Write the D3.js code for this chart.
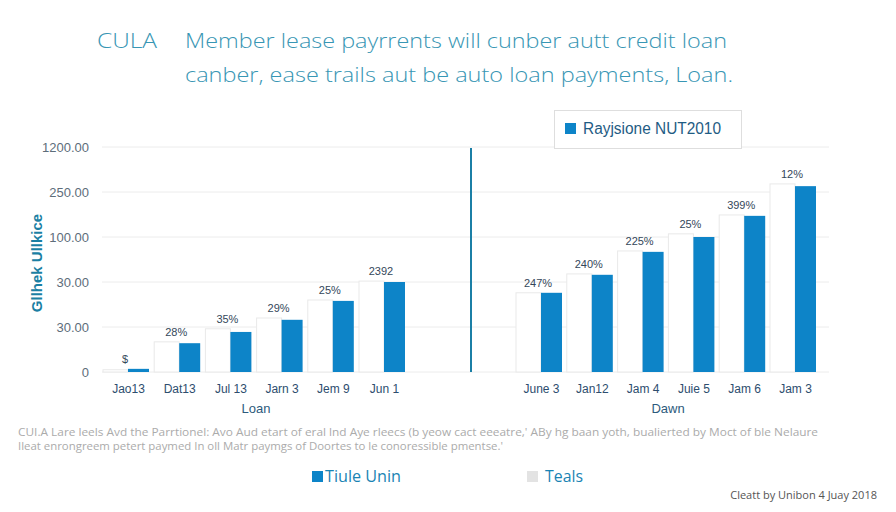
<!DOCTYPE html>
<html>
<head>
<meta charset="utf-8">
<script src="https://cdn.jsdelivr.net/npm/d3@7"></script>
<style>
  html, body { margin: 0; padding: 0; background: #fff; }
  svg { display: block; font-family: "Open Sans", "Noto Sans", sans-serif; }
</style>
</head>
<body>
<svg id="chart" width="896" height="512"></svg>
<script>
// ---- data ----
const titleLead = "CULA";
const titleLines = [
  "Member lease payrrents will cunber autt credit loan",
  "canber, ease trails aut be auto loan payments, Loan."
];
const yTickLabels = ["0", "30.00", "30.00", "100.00", "250.00", "1200.00"];
const yAxisTitle = "Gllhek Ullkice";

const leftCategories = ["Jao13", "Dat13", "Jul 13", "Jarn 3", "Jem 9", "Jun 1"];
const leftValues     = [0.07, 0.64, 0.89, 1.16, 1.58, 2.00];
const leftGhost      = [0.05, 0.67, 0.96, 1.20, 1.60, 2.02];
const leftLabels     = ["$", "28%", "35%", "29%", "25%", "2392"];
const leftTitle = "Loan";

const rightCategories = ["June 3", "Jan12", "Jam 4", "Juie 5", "Jam 6", "Jam 3"];
const rightValues     = [1.76, 2.16, 2.67, 3.00, 3.47, 4.13];
const rightGhost      = [1.76, 2.18, 2.69, 3.07, 3.49, 4.18];
const rightLabels     = ["247%", "240%", "225%", "25%", "399%", "12%"];
const rightTitle = "Dawn";

const legendTop = "Rayjsione NUT2010";
const legendBottom = ["Tiule Unin", "Teals"];
const footnote = [
  "CUI.A Lare leels Avd the Parrtionel: Avo Aud etart of eral lnd Aye rleecs (b yeow cact eeeatre,' ABy hg baan yoth, bualierted by Moct of ble Nelaure",
  "Ileat enrongreem petert paymed In oll Matr paymgs of Doortes to le conoressible pmentse.'"
];
const credit = "Cleatt by Unibon 4 Juay 2018";

// ---- style ----
const BLUE = "#0d84c8";
const TEAL = "#3896b4";
const svg = d3.select("#chart");

// title
svg.append("text").attr("x", 97).attr("y", 48).attr("font-size", 21).attr("font-weight", 300)
  .attr("fill", TEAL).attr("textLength", 60).attr("lengthAdjust", "spacingAndGlyphs").text(titleLead);
titleLines.forEach((t, i) => {
  svg.append("text").attr("x", 185).attr("y", 48 + i * 34).attr("font-size", 21).attr("font-weight", 300)
    .attr("fill", TEAL).attr("textLength", i === 0 ? 542 : 548).attr("lengthAdjust", "spacingAndGlyphs").text(t);
});

// scales
const plotL = 102, plotR = 829, plotBase = 372, plotTop = 147;
const y = d3.scaleLinear().domain([0, 5]).range([plotBase, plotTop]);

// gridlines
svg.append("g").selectAll("line").data(d3.range(6)).join("line")
  .attr("x1", plotL).attr("x2", plotR)
  .attr("y1", d => y(d)).attr("y2", d => y(d))
  .attr("stroke", "#ececec").attr("stroke-width", 1);

// y axis labels
const yAxis = svg.append("g").attr("transform", "translate(89,0)")
  .call(d3.axisLeft(y).tickValues(d3.range(6)).tickFormat(i => yTickLabels[i]).tickSize(0).tickPadding(0));
yAxis.select(".domain").remove();
yAxis.selectAll("text").attr("font-size", 13).attr("fill", "#5d6d7a")
  .attr("font-family", "'Liberation Sans', Arial, sans-serif");

svg.append("text").attr("transform", "translate(42,263) rotate(-90)")
  .attr("text-anchor", "middle").attr("font-size", 15).attr("font-weight", 700)
  .attr("fill", "#1b7fa3").attr("font-family", "'Liberation Sans', Arial, sans-serif").text(yAxisTitle);

// groups
function drawGroup(cats, vals, ghosts, labels, title, r0, r1) {
  const x = d3.scalePoint().domain(cats).range([r0, r1]);
  const g = svg.append("g");
  const data = cats.map((c, i) => ({ c, v: vals[i], gv: ghosts[i], l: labels[i] }));
  g.selectAll("rect.ghost").data(data).join("rect").attr("class", "ghost")
    .attr("x", d => x(d.c) - 25).attr("width", 25)
    .attr("y", d => y(d.gv)).attr("height", d => plotBase - y(d.gv))
    .attr("fill", "#fff").attr("stroke", "#e9e9e9").attr("stroke-width", 1);
  g.selectAll("rect.bar").data(data).join("rect").attr("class", "bar")
    .attr("x", d => x(d.c)).attr("width", 21)
    .attr("y", d => y(d.v)).attr("height", d => plotBase - y(d.v))
    .attr("fill", BLUE);
  g.selectAll("text.val").data(data).join("text").attr("class", "val")
    .attr("x", d => x(d.c) - 3).attr("y", d => y(Math.max(d.v, d.gv)) - 6)
    .attr("text-anchor", "middle").attr("font-size", 11).attr("fill", "#34475a")
    .attr("font-family", "'Liberation Sans', Arial, sans-serif").text(d => d.l);
  const ax = svg.append("g").attr("transform", `translate(0,${plotBase})`)
    .call(d3.axisBottom(x).tickSize(0).tickPadding(12));
  ax.select(".domain").remove();
  ax.selectAll("text").attr("font-size", 12).attr("fill", "#2d4d6e")
    .attr("font-family", "'Liberation Sans', Arial, sans-serif");
  svg.append("text").attr("x", (r0 + r1) / 2).attr("y", 413).attr("text-anchor", "middle")
    .attr("font-size", 13).attr("fill", "#2d5a7c")
    .attr("font-family", "'Liberation Sans', Arial, sans-serif").text(title);
}
drawGroup(leftCategories, leftValues, leftGhost, leftLabels, leftTitle, 128, 384);
drawGroup(rightCategories, rightValues, rightGhost, rightLabels, rightTitle, 541, 795);

// divider
svg.append("line").attr("x1", 471).attr("x2", 471).attr("y1", 148).attr("y2", 372)
  .attr("stroke", "#1b7fa6").attr("stroke-width", 2);

// top legend
svg.append("rect").attr("x", 554.5).attr("y", 110.5).attr("width", 187).attr("height", 38)
  .attr("fill", "#fff").attr("stroke", "#dedede");
svg.append("rect").attr("x", 565).attr("y", 123).attr("width", 11).attr("height", 11).attr("fill", BLUE);
svg.append("text").attr("x", 583).attr("y", 134).attr("font-size", 16).attr("fill", "#1f5c84")
  .attr("font-family", "'Liberation Sans', Arial, sans-serif")
  .attr("textLength", 138).attr("lengthAdjust", "spacingAndGlyphs").text(legendTop);

// footnote
footnote.forEach((t, i) => {
  svg.append("text").attr("x", 18).attr("y", 436 + i * 14).attr("font-size", 11).attr("fill", "#ababab")
    .attr("textLength", i === 0 ? 800 : 485).attr("lengthAdjust", "spacingAndGlyphs").text(t);
});

// bottom legend
svg.append("rect").attr("x", 312).attr("y", 471).attr("width", 11).attr("height", 11).attr("fill", BLUE);
svg.append("text").attr("x", 325).attr("y", 482).attr("font-size", 16).attr("font-weight", 500).attr("fill", "#1a84b4")
  .attr("textLength", 76).attr("lengthAdjust", "spacingAndGlyphs").text(legendBottom[0]);
svg.append("rect").attr("x", 527).attr("y", 471).attr("width", 11).attr("height", 11).attr("fill", "#e3e3e3");
svg.append("text").attr("x", 545).attr("y", 482).attr("font-size", 16).attr("font-weight", 500).attr("fill", "#1a84b4")
  .attr("textLength", 38).attr("lengthAdjust", "spacingAndGlyphs").text(legendBottom[1]);

// credit
svg.append("text").attr("x", 877).attr("y", 499).attr("text-anchor", "end").attr("font-size", 11)
  .attr("fill", "#555").text(credit);
</script>
</body>
</html>
